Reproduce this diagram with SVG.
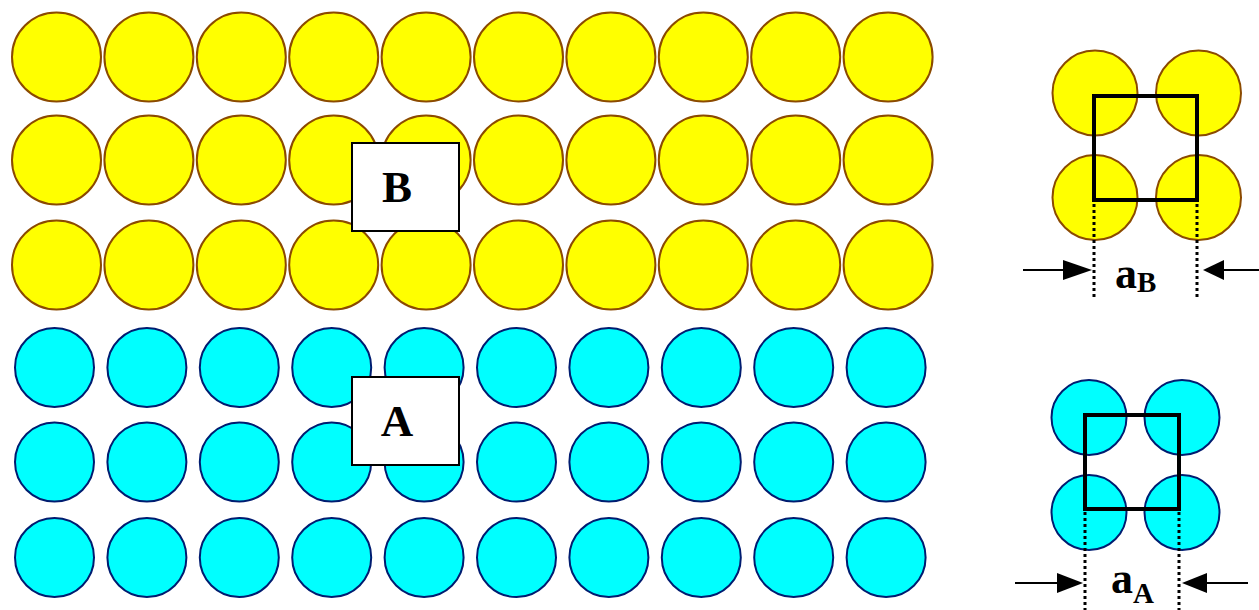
<svg xmlns="http://www.w3.org/2000/svg" xmlns:xlink="http://www.w3.org/1999/xlink" width="1259" height="610" viewBox="0 0 1259 610">
<style>
.y{fill:#FFFF00;stroke:#8B4A00;stroke-width:2}
.c{fill:#00FFFF;stroke:#001C70;stroke-width:2}
.box{fill:#FFFFFF;stroke:#000;stroke-width:2}
.lbl{font-family:"Liberation Serif","Times New Roman",serif;font-weight:bold;fill:#000}
.sq{fill:none;stroke:#000;stroke-width:4}
.dot{stroke:#000;stroke-width:3;stroke-dasharray:3 3;fill:none}
.ar{stroke:#000;stroke-width:2;fill:none}
</style>
<defs>
<circle id="yc" r="44.5" class="y"/>
<circle id="cc" r="39.5" class="c"/>
</defs>
<rect width="1259" height="610" fill="#FFFFFF"/>
<g id="yellow-grid">
<g id="yrow1">
<use href="#yc" x="56.5" y="57"/><use href="#yc" x="148.9" y="57"/><use href="#yc" x="241.3" y="57"/><use href="#yc" x="333.7" y="57"/><use href="#yc" x="426.1" y="57"/><use href="#yc" x="518.5" y="57"/><use href="#yc" x="610.9" y="57"/><use href="#yc" x="703.3" y="57"/><use href="#yc" x="795.7" y="57"/><use href="#yc" x="888.1" y="57"/>
</g>
<g id="yrow2">
<use href="#yc" x="56.5" y="160"/><use href="#yc" x="148.9" y="160"/><use href="#yc" x="241.3" y="160"/><use href="#yc" x="333.7" y="160"/><use href="#yc" x="426.1" y="160"/><use href="#yc" x="518.5" y="160"/><use href="#yc" x="610.9" y="160"/><use href="#yc" x="703.3" y="160"/><use href="#yc" x="795.7" y="160"/><use href="#yc" x="888.1" y="160"/>
</g>
<g id="yrow3">
<use href="#yc" x="56.5" y="265"/><use href="#yc" x="148.9" y="265"/><use href="#yc" x="241.3" y="265"/><use href="#yc" x="333.7" y="265"/><use href="#yc" x="426.1" y="265"/><use href="#yc" x="518.5" y="265"/><use href="#yc" x="610.9" y="265"/><use href="#yc" x="703.3" y="265"/><use href="#yc" x="795.7" y="265"/><use href="#yc" x="888.1" y="265"/>
</g>
</g>
<g id="cyan-grid">
<g id="crow1">
<use href="#cc" x="54.5" y="367.5"/><use href="#cc" x="146.9" y="367.5"/><use href="#cc" x="239.3" y="367.5"/><use href="#cc" x="331.7" y="367.5"/><use href="#cc" x="424.1" y="367.5"/><use href="#cc" x="516.5" y="367.5"/><use href="#cc" x="608.9" y="367.5"/><use href="#cc" x="701.3" y="367.5"/><use href="#cc" x="793.7" y="367.5"/><use href="#cc" x="886.1" y="367.5"/>
</g>
<g id="crow2">
<use href="#cc" x="54.5" y="462"/><use href="#cc" x="146.9" y="462"/><use href="#cc" x="239.3" y="462"/><use href="#cc" x="331.7" y="462"/><use href="#cc" x="424.1" y="462"/><use href="#cc" x="516.5" y="462"/><use href="#cc" x="608.9" y="462"/><use href="#cc" x="701.3" y="462"/><use href="#cc" x="793.7" y="462"/><use href="#cc" x="886.1" y="462"/>
</g>
<g id="crow3">
<use href="#cc" x="54.5" y="557.5"/><use href="#cc" x="146.9" y="557.5"/><use href="#cc" x="239.3" y="557.5"/><use href="#cc" x="331.7" y="557.5"/><use href="#cc" x="424.1" y="557.5"/><use href="#cc" x="516.5" y="557.5"/><use href="#cc" x="608.9" y="557.5"/><use href="#cc" x="701.3" y="557.5"/><use href="#cc" x="793.7" y="557.5"/><use href="#cc" x="886.1" y="557.5"/>
</g>
</g>
<g id="label-B">
<rect class="box" x="352" y="143" width="107" height="88"/>
<text class="lbl" x="397" y="202" font-size="45" text-anchor="middle">B</text>
</g>
<g id="label-A">
<rect class="box" x="352" y="377" width="107" height="88"/>
<text class="lbl" x="397" y="436" font-size="45" text-anchor="middle">A</text>
</g>
<g id="cell-B">
<circle class="y" cx="1095" cy="93" r="42.5"/>
<circle class="y" cx="1198.5" cy="93" r="42.5"/>
<circle class="y" cx="1095" cy="197.5" r="42.5"/>
<circle class="y" cx="1198.5" cy="197.5" r="42.5"/>
<rect class="sq" x="1094" y="96" width="103" height="104"/>
<line class="dot" x1="1094" y1="204" x2="1094" y2="300"/>
<line class="dot" x1="1197" y1="204" x2="1197" y2="300"/>
<line class="ar" x1="1023" y1="270" x2="1070" y2="270"/>
<polygon points="1092,270 1063,260 1063,280" fill="#000"/>
<line class="ar" x1="1218" y1="270" x2="1259" y2="270"/>
<polygon points="1203,270 1224,260 1224,280" fill="#000"/>
<text class="lbl" x="1115" y="288" font-size="44">a<tspan font-size="29" dy="4">B</tspan></text>
</g>
<g id="cell-A">
<circle class="c" cx="1089" cy="417.5" r="37.5"/>
<circle class="c" cx="1182" cy="417.5" r="37.5"/>
<circle class="c" cx="1089" cy="512.5" r="37.5"/>
<circle class="c" cx="1182" cy="512.5" r="37.5"/>
<rect class="sq" x="1085" y="415" width="94" height="94"/>
<line class="dot" x1="1085" y1="512" x2="1085" y2="610"/>
<line class="dot" x1="1179" y1="512" x2="1179" y2="610"/>
<line class="ar" x1="1015" y1="583" x2="1062" y2="583"/>
<polygon points="1083,583 1057,573 1057,593" fill="#000"/>
<line class="ar" x1="1202" y1="583" x2="1248" y2="583"/>
<polygon points="1182,583 1207,573 1207,593" fill="#000"/>
<text class="lbl" x="1111" y="593" font-size="44">a<tspan font-size="29" dy="10">A</tspan></text>
</g>
</svg>
